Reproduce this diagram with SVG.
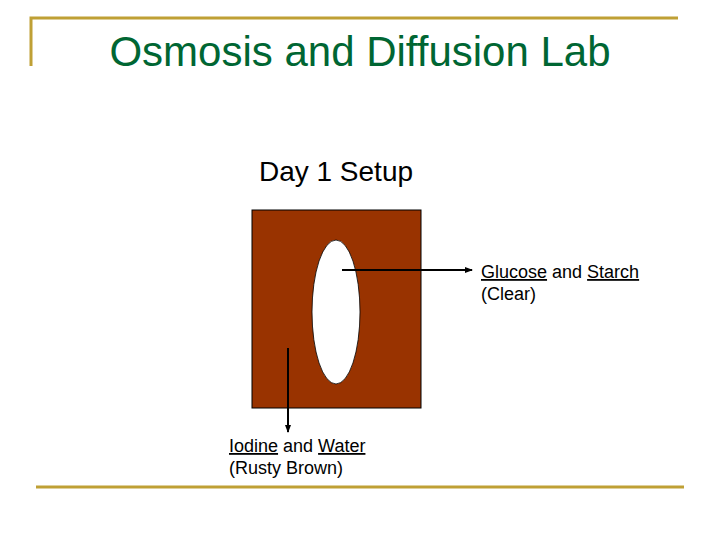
<svg xmlns="http://www.w3.org/2000/svg" width="720" height="540" viewBox="0 0 720 540">
<defs>
<marker id="ah" markerWidth="8" markerHeight="8" refX="7" refY="4" orient="auto" markerUnits="userSpaceOnUse">
<path d="M0,1 L8,4 L0,7 Z" fill="#000"/>
</marker>
<style>
.gold{stroke:#BFA035;stroke-width:3;fill:none}
.lbl{font-family:"Liberation Sans",Arial,sans-serif;font-size:18px;fill:#000}
.u{text-decoration:underline}
.conn{stroke:#000;stroke-width:2;fill:none;marker-end:url(#ah)}
</style>
</defs>
<rect width="720" height="540" fill="#fff"/>
<g id="frame">
<polyline class="gold" points="31,66 31,18 678,18"/>
<line class="gold" x1="36" y1="487" x2="684" y2="487"/>
</g>
<g id="title">
<text x="360" y="66" text-anchor="middle" font-family="Liberation Sans,Arial,sans-serif" font-size="42" fill="#006633">Osmosis and Diffusion Lab</text>
</g>
<g id="subtitle">
<text x="336" y="181" text-anchor="middle" font-family="Liberation Sans,Arial,sans-serif" font-size="28" fill="#000">Day 1 Setup</text>
</g>
<g id="beaker">
<rect x="252" y="210" width="169" height="198" fill="#993300" stroke="#000" stroke-width="1"/>
</g>
<g id="bag">
<ellipse cx="336" cy="312" rx="24" ry="72" fill="#fff" stroke="#000" stroke-width="0.8"/>
</g>
<g id="connectors">
<line class="conn" x1="342" y1="270" x2="472" y2="270"/>
<line class="conn" x1="288" y1="348" x2="288" y2="432"/>
</g>
<g id="label-bag">
<text class="lbl" x="481" y="278"><tspan class="u">Glucose</tspan> and <tspan class="u">Starch</tspan></text>
<text class="lbl" x="481" y="300">(Clear)</text>
</g>
<g id="label-beaker">
<text class="lbl" x="229" y="452"><tspan class="u">Iodine</tspan> and <tspan class="u">Water</tspan></text>
<text class="lbl" x="229" y="474">(Rusty Brown)</text>
</g>
</svg>
